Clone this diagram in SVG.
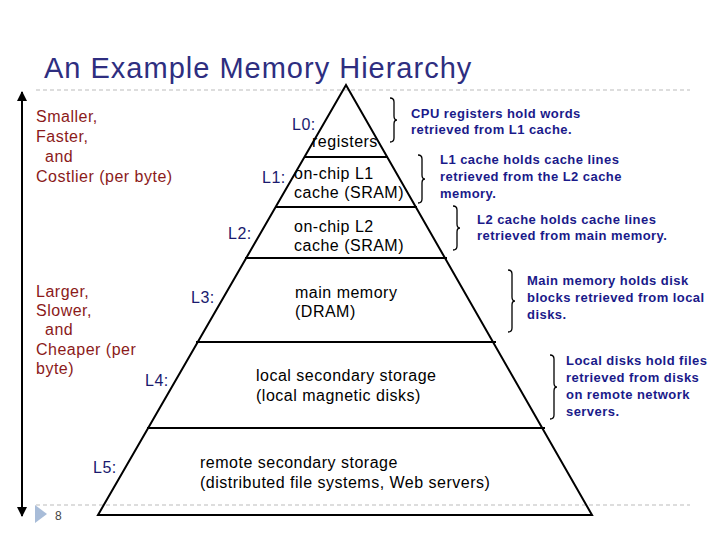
<svg xmlns="http://www.w3.org/2000/svg" width="720" height="540" viewBox="0 0 720 540">
<style>
.t{font-family:"Liberation Sans",Arial,sans-serif;font-size:16px;letter-spacing:0.5px;fill:#000}
.r{font-family:"Liberation Sans",Arial,sans-serif;font-size:16px;letter-spacing:0.5px;fill:#8B1A1A}
.l{font-family:"Liberation Sans",Arial,sans-serif;font-size:16px;letter-spacing:0.5px;fill:#1a1a6e}
.b{font-family:"Liberation Sans",Arial,sans-serif;font-size:13px;letter-spacing:0.45px;font-weight:bold;fill:#1a1a8a}
.br{fill:none;stroke:#000;stroke-width:1.3}
.ln{stroke:#000;stroke-width:2}
</style>
<defs><marker id="ah" viewBox="0 0 10 10" refX="9" refY="5" markerWidth="5" markerHeight="6" orient="auto"><path d="M0,0L10,5L0,10z" fill="#000"/></marker></defs>
<rect width="720" height="540" fill="#fff"/>
<text x="44" y="78" font-family="Liberation Sans,Arial,sans-serif" font-size="29" letter-spacing="1" fill="#2e2e80">An Example Memory Hierarchy</text>
<line x1="36" y1="90" x2="690" y2="90" stroke="#bbb" stroke-dasharray="4,3"/>
<line x1="36" y1="505" x2="690" y2="505" stroke="#bbb" stroke-dasharray="4,3"/>
<g id="connectors">
<line x1="22" y1="290" x2="22" y2="92" stroke="#000" stroke-width="2" marker-end="url(#ah)"/>
<line x1="22" y1="285" x2="22" y2="516" stroke="#000" stroke-width="2" marker-end="url(#ah)"/>
</g>
<g id="pyramid">
<polygon points="346,85 98,515 592,515" fill="none" stroke="#000" stroke-width="2"/>
<line class="ln" x1="304" y1="157" x2="388" y2="157"/>
<line class="ln" x1="275" y1="207" x2="417" y2="207"/>
<line class="ln" x1="245" y1="258" x2="447" y2="258"/>
<line class="ln" x1="196" y1="342" x2="496" y2="342"/>
<line class="ln" x1="147" y1="428" x2="545" y2="428"/>
</g>
<g id="axis-labels">
<text class="r" x="36" y="122">Smaller,</text><text class="r" x="36" y="142">Faster,</text><text class="r" x="45" y="162">and</text><text class="r" x="36" y="182">Costlier (per byte)</text>
<text class="r" x="36" y="297">Larger,</text><text class="r" x="36" y="316">Slower,</text><text class="r" x="45" y="335">and</text><text class="r" x="36" y="355">Cheaper (per</text><text class="r" x="36" y="374">byte)</text>
</g>
<g id="L0"><text class="l" x="292" y="130">L0:</text><text class="t" x="312" y="147">registers</text></g>
<g id="L1"><text class="l" x="262" y="183">L1:</text><text class="t" x="294" y="179">on-chip L1</text><text class="t" x="294" y="198">cache (SRAM)</text></g>
<g id="L2"><text class="l" x="228" y="239">L2:</text><text class="t" x="294" y="232">on-chip L2</text><text class="t" x="294" y="251">cache (SRAM)</text></g>
<g id="L3"><text class="l" x="191" y="303">L3:</text><text class="t" x="295" y="298">main memory</text><text class="t" x="295" y="317">(DRAM)</text></g>
<g id="L4"><text class="l" x="145" y="386">L4:</text><text class="t" x="256" y="381">local secondary storage</text><text class="t" x="256" y="401">(local magnetic disks)</text></g>
<g id="L5"><text class="l" x="93" y="473">L5:</text><text class="t" x="200" y="468">remote secondary storage</text><text class="t" x="200" y="488">(distributed file systems, Web servers)</text></g>
<g id="notes">
<path class="br" d="M390,98 q4,0 4,4 v14 q0,4 3,4 q-3,0 -3,4 v14 q0,4 -4,4"/>
<text class="b" x="411" y="118">CPU registers hold words</text><text class="b" x="411" y="134">retrieved from L1 cache.</text>
<path class="br" d="M418,155 q4,0 4,4 v16 q0,4 3,4 q-3,0 -3,4 v16 q0,4 -4,4"/>
<text class="b" x="440" y="164">L1 cache holds cache lines</text><text class="b" x="440" y="181">retrieved from the L2 cache</text><text class="b" x="440" y="198">memory.</text>
<path class="br" d="M453,206 q4,0 4,4 v14 q0,4 3,4 q-3,0 -3,4 v14 q0,4 -4,4"/>
<text class="b" x="477" y="224">L2 cache holds cache lines</text><text class="b" x="477" y="240">retrieved from main memory.</text>
<path class="br" d="M508,270 q4,0 4,4 v23 q0,4 3,4 q-3,0 -3,4 v23 q0,4 -4,4"/>
<text class="b" x="527" y="285">Main memory holds disk</text><text class="b" x="527" y="302">blocks retrieved from local</text><text class="b" x="527" y="319">disks.</text>
<path class="br" d="M550,355 q4,0 4,4 v24 q0,4 3,4 q-3,0 -3,4 v24 q0,4 -4,4"/>
<text class="b" x="566" y="365">Local disks hold files</text><text class="b" x="566" y="382">retrieved from disks</text><text class="b" x="566" y="399">on remote network</text><text class="b" x="566" y="416">servers.</text>
</g>
<polygon points="35,505 47,514 35,523" fill="#a8bcd8"/>
<text x="55" y="520" font-family="Liberation Sans,Arial,sans-serif" font-size="12" fill="#444">8</text>
</svg>
